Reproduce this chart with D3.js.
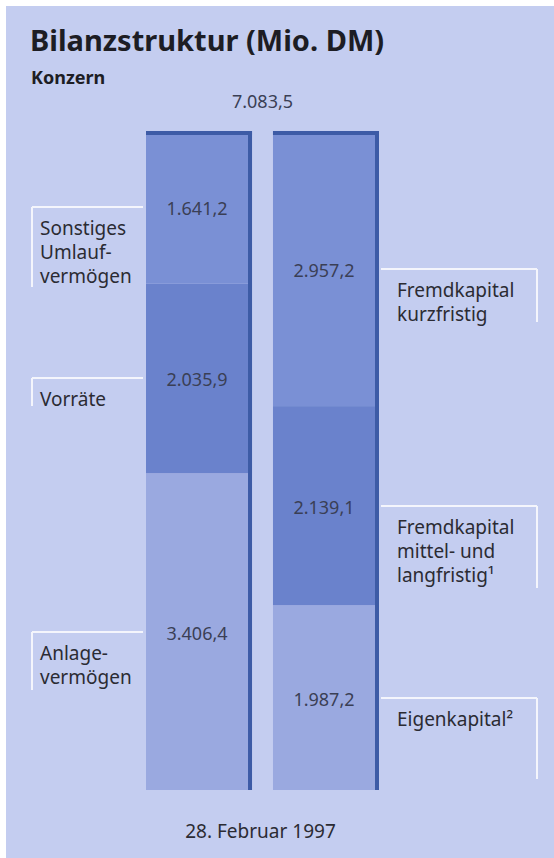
<!DOCTYPE html>
<html>
<head>
<meta charset="utf-8">
<script src="https://cdn.jsdelivr.net/npm/d3@7"></script>
<style>
  body { margin: 0; background: #ffffff; }
  svg text { font-family: "Noto Sans", "Open Sans", sans-serif; }
</style>
</head>
<body>
<div id="chart"></div>
<script>
// Bilanzstruktur (Mio. DM), Konzern, 28. Februar 1997
var columns = ["Aktiva", "Passiva"];
var aktivaNames = ["Anlagevermögen", "Vorräte", "Sonstiges Umlaufvermögen"];
var aktivaValues = [3406.4, 2035.9, 1641.2];
var passivaNames = ["Eigenkapital", "Fremdkapital mittel- und langfristig", "Fremdkapital kurzfristig"];
var passivaValues = [1987.2, 2139.1, 2957.2];
var aktivaLabels = [["Anlage-", "vermögen"], ["Vorräte"], ["Sonstiges", "Umlauf-", "vermögen"]];
var passivaLabels = [["Eigenkapital²"], ["Fremdkapital", "mittel- und", "langfristig¹"], ["Fremdkapital", "kurzfristig"]];
var valueTexts = {Aktiva: ["3.406,4", "2.035,9", "1.641,2"], Passiva: ["1.987,2", "2.139,1", "2.957,2"]};
var totalText = "7.083,5";
var dateText = "28. Februar 1997";

var W = 554, H = 858;
var shades = ["#9aa9e0", "#6a82cc", "#7a90d5"];
var edgeColor = "#3d5ba6";

var svg = d3.select("#chart").append("svg")
    .attr("width", W)
    .attr("height", H);

// panel
svg.append("rect")
    .attr("x", 6).attr("y", 6)
    .attr("width", W - 6).attr("height", H - 6)
    .attr("fill", "#c4cdf0");

var xScale = d3.scaleBand()
    .domain(columns)
    .range([146, 379])
    .paddingInner(0.165)
    .paddingOuter(0);

var total = d3.sum(aktivaValues);
var yScale = d3.scaleLinear()
    .domain([0, total])
    .range([790, 131]);

function stackUp(values) {
    var acc = 0;
    return values.map(function(v, i) {
        var d = {i: i, y0: acc, y1: acc + v, value: v};
        acc += v;
        return d;
    });
}

var series = {Aktiva: stackUp(aktivaValues), Passiva: stackUp(passivaValues)};
var labelLines = {Aktiva: aktivaLabels, Passiva: passivaLabels};
// how far each white bracket runs downward (px)
var bracketDepth = {Aktiva: [58, 28, 80], Passiva: [81, 82, 53]};

columns.forEach(function(col) {
    var x0 = xScale(col), bw = xScale.bandwidth();
    var g = svg.append("g").attr("class", "bar " + col);

    g.selectAll("rect.seg")
      .data(series[col])
      .enter().append("rect")
        .attr("class", "seg")
        .attr("x", x0)
        .attr("width", bw)
        .attr("y", function(d) { return yScale(d.y1); })
        .attr("height", function(d) { return yScale(d.y0) - yScale(d.y1); })
        .attr("fill", function(d) { return shades[d.i]; });

    // dark top and right edges
    g.append("rect")
        .attr("x", x0).attr("y", yScale(total))
        .attr("width", bw).attr("height", 4)
        .attr("fill", edgeColor);
    g.append("rect")
        .attr("x", x0 + bw - 4).attr("y", yScale(total))
        .attr("width", 4).attr("height", yScale(0) - yScale(total))
        .attr("fill", edgeColor);

    // values
    g.selectAll("text.val")
      .data(series[col])
      .enter().append("text")
        .attr("class", "val")
        .attr("x", x0 + (bw - 4) / 2)
        .attr("y", function(d) { return (yScale(d.y0) + yScale(d.y1)) / 2 + 8; })
        .attr("text-anchor", "middle")
        .style("font-size", "18px")
        .attr("fill", "#3a3f55")
        .text(function(d) { return valueTexts[col][d.i]; });

    // brackets + labels
    var left = col === "Aktiva";
    series[col].forEach(function(d) {
        var ym = Math.round((yScale(d.y0) + yScale(d.y1)) / 2);
        var xa = left ? 32 : x0 + bw + 2;
        var xb = left ? x0 - 3 : 537;
        var xv = left ? 32 : 537;
        svg.append("path")
            .attr("d", "M" + xb + "," + ym + "H" + xa)
            .attr("stroke", "#f4f5fc").attr("stroke-width", 2).attr("fill", "none");
        svg.append("path")
            .attr("d", "M" + xv + "," + ym + "V" + (ym + bracketDepth[col][d.i]))
            .attr("stroke", "#f4f5fc").attr("stroke-width", 2).attr("fill", "none");
        var t = svg.append("text")
            .attr("x", left ? 40 : 397)
            .attr("y", ym + 28)
            .style("font-size", "19px")
            .attr("fill", "#2b2b33");
        labelLines[col][d.i].forEach(function(line, k) {
            t.append("tspan")
                .attr("x", left ? 40 : 397)
                .attr("dy", k === 0 ? 0 : 24)
                .text(line);
        });
    });
});

// titles
svg.append("text")
    .attr("x", 30).attr("y", 51)
    .style("font-size", "29px").style("font-weight", "bold")
    .attr("fill", "#1d1d24")
    .text("Bilanzstruktur (Mio. DM)");
svg.append("text")
    .attr("x", 31).attr("y", 84)
    .style("font-size", "18px").style("font-weight", "bold")
    .attr("fill", "#1d1d24")
    .text("Konzern");

var midX = (xScale("Aktiva") + xScale("Passiva") + xScale.bandwidth()) / 2;
svg.append("text")
    .attr("x", midX).attr("y", 108)
    .attr("text-anchor", "middle")
    .style("font-size", "18px")
    .attr("fill", "#3a3f55")
    .text(totalText);
svg.append("text")
    .attr("x", midX - 2).attr("y", 838)
    .attr("text-anchor", "middle")
    .style("font-size", "19px")
    .attr("fill", "#2b2b33")
    .text(dateText);
</script>
</body>
</html>
